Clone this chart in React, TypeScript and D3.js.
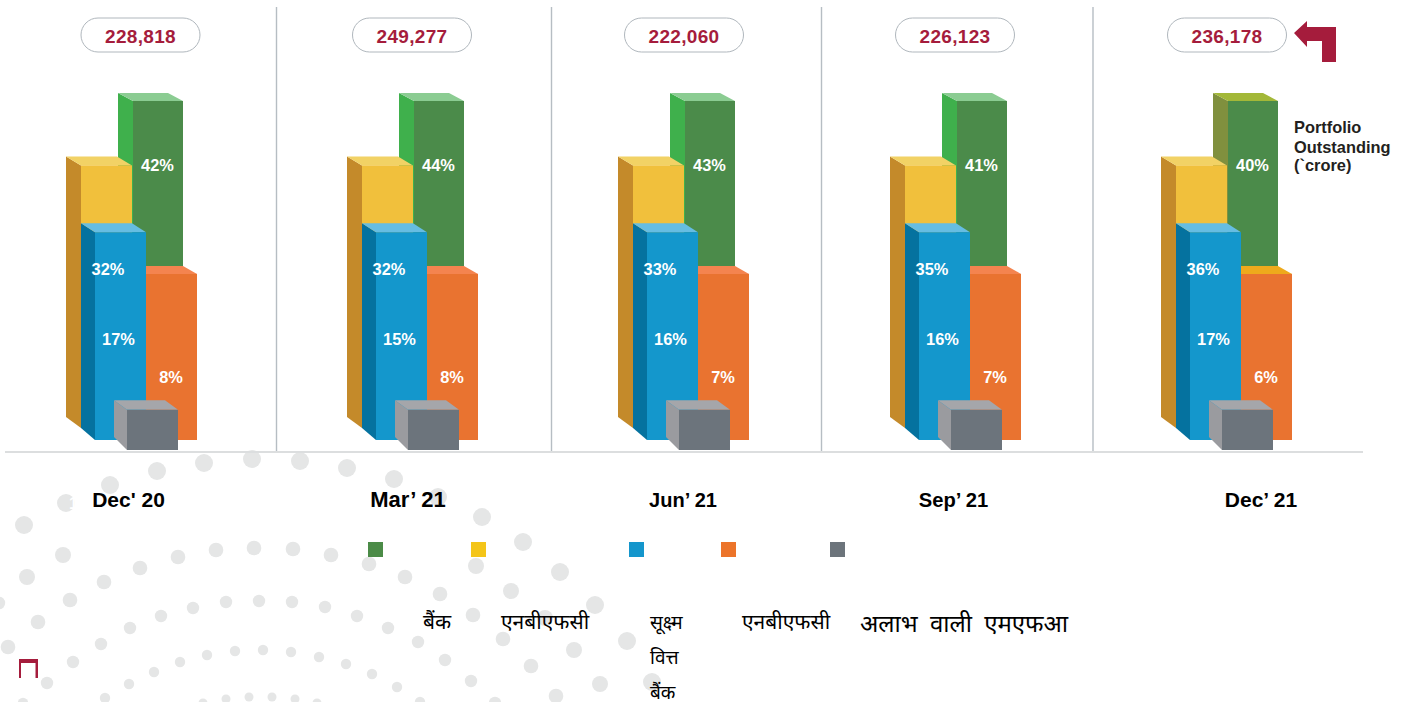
import React from "react";
import * as d3 from "d3";

const categories = ["Dec' 20", "Mar’ 21", "Jun’ 21", "Sep’ 21", "Dec’ 21"];
const totals = ["228,818", "249,277", "222,060", "226,123", "236,178"];
const bankShare = [42, 44, 43, 41, 40];
const nbfcShare = [32, 32, 33, 35, 36];
const sfbShare = [17, 15, 16, 16, 17];
const nbfcMfiShare = [8, 8, 7, 7, 6];
const legendLabels = [["बैंक"], ["एनबीएफसी"], ["सूक्ष्म", "वित्त", "बैंक"], ["एनबीएफसी"], ["अलाभ वाली एमएफआ"]];
const unitLabel = ["Portfolio", "Outstanding", "(`crore)"];
// Illustrative bar heights (the source's bars do not change between periods)
const bankLevel = 100;
const nbfcLevel = 81;
const sfbLevel = 61.3;
const mfiLevel = 49;
const nfpLevel = 8.9;
const dotsA: [number, number][] = [[24,525],[66,503],[110,485],[157,471],[204,463],[252,459],[300,461],[347,468],[394,479],[438,497],[482,517],[523,542],[560,572],[595,605],[627,641],[652,682]];
const dotsA2: [number, number][] = [[27,577],[63,555],[476,566],[511,591],[545,618],[574,650],[600,684]];
const dotsB: [number, number][] = [[8,647],[38,622],[70,600],[104,582],[140,568],[178,557],[216,550],[254,548],[293,549],[331,555],[369,564],[405,577],[440,594],[473,615],[503,639],[531,666],[556,696]];
const dotsC: [number, number][] = [[-1,603],[47,683],[73,662],[101,644],[130,628],[161,616],[193,608],[226,602],[259,601],[292,602],[325,607],[357,616],[388,628],[418,642],[445,660],[471,681],[495,703]];
const dotsD: [number, number][] = [[23,703],[105,698],[129,684],[154,672],[180,662],[207,655],[235,651],[263,650],[291,652],[319,657],[346,664],[372,674],[397,687],[420,702]];
const dotsE: [number, number][] = [[203,703],[226,699],[249,697],[272,697],[295,699],[317,703]];

const FONT = "'Liberation Sans', Arial, sans-serif";
const CRIMSON = "#a51c3c";

const xScale = d3.scaleOrdinal<string, number>().domain(categories).range([0, 281, 552, 824, 1095]);
const yScale = d3.scaleLinear().domain([0, 100]).range([440, 101]);

function Box({ x, w, level, bottom, dx, dy, front, side, top, foot }: any) {
  const yT = yScale(level);
  return (
    <g>
      <path d={`M${x - dx},${yT - dy}L${x},${yT}L${x},${bottom}L${x - dx},${foot}Z`} fill={side} />
      <path d={`M${x - dx},${yT - dy}L${x + w - dx},${yT - dy}L${x + w},${yT}L${x},${yT}Z`} fill={top} />
      <rect x={x} y={yT} width={w} height={bottom - yT} fill={front} />
    </g>
  );
}

export default function App() {
  const dotSets: [[number, number][], number][] = [[dotsA, 9], [dotsA2, 8], [dotsB, 7.3], [dotsC, 6.2], [dotsD, 5.2], [dotsE, 4.5]];
  const legendX = [368, 471, 629, 721, 830];
  const legendColors = ["#4b8b47", "#f4c519", "#1496cc", "#ec742a", "#6c747b"];
  const legendTextX = [423, 501, 650, 742, 860];
  const legendSize = [21, 21, 19, 21, 24];
  const pillX = [140.5, 412, 684, 955, 1227];
  const catX = [128.5, 408, 683, 953.5, 1261];
  const catSize = [21, 22, 20, 20.2, 21];
  const catY = [499.5, 499.5, 500, 500, 499.5];
  return (
    <svg width={1412} height={702} style={{ position: "absolute", left: 0, top: 0, background: "#fff" }} fontFamily={FONT}>
      {dotSets.map(([dots, r], i) => (
        <g key={i} fill="#e5e6e6">
          {dots.map(([cx, cy], j) => <circle key={j} cx={cx} cy={cy} r={r} />)}
        </g>
      ))}
      <text x={69} y={508.5} fill="#fff" fontWeight={700} fontSize={16}>1%</text>
      {[276.5, 551.5, 821.5, 1093].map((x) => (
        <line key={x} x1={x} x2={x} y1={7} y2={451} stroke="#b6bdc3" strokeWidth={1.4} />
      ))}
      <line x1={5} x2={1363} y1={452} y2={452} stroke="#dcdedf" strokeWidth={2} />
      {categories.map((c, i) => {
        const o = xScale(c);
        const last = i === categories.length - 1;
        return (
          <g key={c}>
            <Box x={133 + o} w={50} level={bankLevel} bottom={274} foot={274} dx={15} dy={8} front="#4b8b4a" side={last ? "#80903e" : "#3fb04c"} top={last ? "#a3b838" : "#8bcc92"} />
            <Box x={81 + o} w={51} level={nbfcLevel} bottom={428} foot={417} dx={15} dy={9} front="#f1c03c" side="#c48a2a" top="#f2d265" />
            <rect x={146 + o} y={yScale(mfiLevel)} width={51} height={440 - yScale(mfiLevel)} fill="#e97330" />
            <path d={`M${146 + o},${yScale(mfiLevel)}V${yScale(mfiLevel) - 8}H${183 + o}L${197 + o},${yScale(mfiLevel)}Z`} fill={last ? "#eeaa1c" : "#f4844f"} />
            <Box x={95 + o} w={51} level={sfbLevel} bottom={440} foot={428} dx={14} dy={9} front="#1497cc" side="#05729f" top="#66bde2" />
            <Box x={127 + o} w={51} level={nfpLevel} bottom={450} foot={437} dx={13} dy={9.5} front="#6c747c" side="#9a9b9f" top="#a5a6aa" />
            <g fill="#fff" fontWeight={700} fontSize={16.4} textAnchor="middle" dominantBaseline="central">
              <text x={157.5 + o} y={164.5}>{bankShare[i]}%</text>
              <text x={108 + o} y={269}>{nbfcShare[i]}%</text>
              <text x={118.5 + o} y={339}>{sfbShare[i]}%</text>
              <text x={171 + o} y={377}>{nbfcMfiShare[i]}%</text>
            </g>
            <rect x={pillX[i] - 59.5} y={18} width={119} height={34} rx={17} fill="#fff" stroke="#b0b7bd" strokeWidth={1} />
            <text x={pillX[i]} y={36.5} fill={CRIMSON} fontWeight={700} fontSize={19} letterSpacing={0.3} textAnchor="middle" dominantBaseline="central">{totals[i]}</text>
            <text x={catX[i]} y={catY[i]} fontWeight={700} fontSize={catSize[i]} textAnchor="middle" dominantBaseline="central" fill="#000">{c}</text>
          </g>
        );
      })}
      <path d="M1294,33L1307,21V27H1336V62H1322V41H1307V47Z" fill={CRIMSON} />
      <g fill="#231f20" fontWeight={700} fontSize={16.4}>
        {unitLabel.map((t, i) => <text key={t} x={1294} y={[133, 153, 171][i]}>{t}</text>)}
      </g>
      {legendColors.map((c, i) => <rect key={c} x={legendX[i]} y={542} width={15} height={15} fill={c} />)}
      <g fontFamily="'Noto Sans', 'Noto Sans Devanagari', 'Lohit Devanagari', sans-serif" fill="#000">
        {legendLabels.map((lines, i) => lines.map((t, j) => (
          <text key={i + "-" + j} x={legendTextX[i]} y={i === 4 ? 632 : 629 + j * 35} fontSize={legendSize[i]} style={{ wordSpacing: i === 4 ? "6px" : undefined }}>{t}</text>
        )))}
      </g>
      <rect x={19} y={659} width={19} height={19} fill={CRIMSON} />
      <rect x={21} y={663} width={14.5} height={15} fill="#fff" />
    </svg>
  );
}
